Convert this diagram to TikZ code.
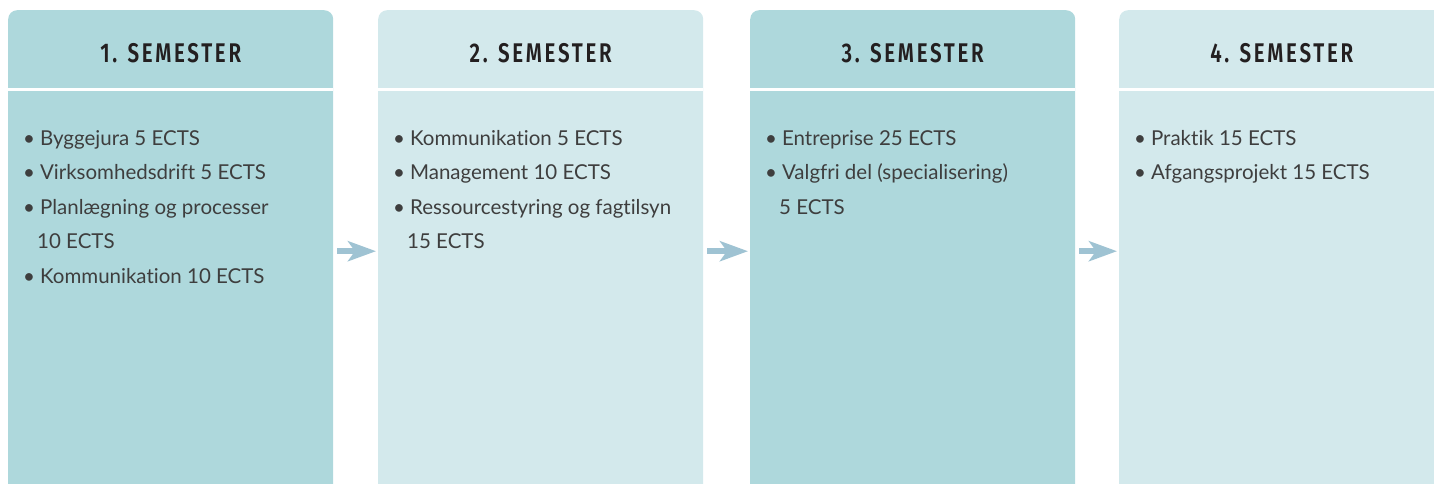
\documentclass[tikz,border=0pt]{standalone}
\usepackage{fontspec}
\setmainfont{Lato}[Ligatures=NoCommon]
\newfontfamily\headfont[FakeStretch=0.76,LetterSpace=10]{Fira Sans SemiBold}
\usetikzlibrary{arrows.meta,positioning}

\definecolor{semdark}{HTML}{AED8DC}
\definecolor{semlight}{HTML}{D3E9EC}
\definecolor{flowblue}{HTML}{9FC3D3}
\definecolor{bodyink}{HTML}{3E3E3E}
\definecolor{headink}{HTML}{231F20}

\newcommand{\bul}{\textbullet\hspace{5pt}}
\newcommand{\cont}{\hspace{14pt}}

\begin{document}
\begin{tikzpicture}[x=1pt,y=-1pt,
  column/.style={rectangle,anchor=north west,inner sep=0pt,
    minimum width=325pt,minimum height=492pt,rounded corners=9pt},
  head/.style={font=\headfont\fontsize{27}{30}\selectfont,text=headink},
  body/.style={anchor=north west,inner sep=0pt,align=left,text=bodyink,
    font=\fontsize{20.5}{34.5}\selectfont},
  sep/.style={white,line width=2.5pt},
  flow/.style={flowblue,line width=6pt,-{Stealth[length=28pt,width=20pt,inset=7pt]},
    shorten <=4pt,shorten >=2pt}]
\useasboundingbox (0,0) rectangle (1434,484);
\clip (0,0) rectangle (1434,484);

% Semester columns
\node[column,fill=semdark] (c1) at (8,10) {};
\node[column,fill=semlight] (c2) at (378,10) {};
\node[column,fill=semdark] (c3) at (750,10) {};
\node[column,fill=semlight] (c4) at (1119,10) {};

% Header separators
\foreach \c in {c1,c2,c3,c4}
  \draw[sep] ([yshift=-79.5pt]\c.north west) -- ([yshift=-79.5pt]\c.north east);

% Headers
\node[head] (h1) at ([yshift=-43pt]c1.north) {1. SEMESTER};
\node[head] (h2) at ([yshift=-43pt]c2.north) {2. SEMESTER};
\node[head] (h3) at ([yshift=-43pt]c3.north) {3. SEMESTER};
\node[head] (h4) at ([yshift=-43pt]c4.north) {4. SEMESTER};

% Course lists
\node[body] (b1) at ([xshift=15pt,yshift=-120pt]c1.north west)
  {\bul Byggejura 5 ECTS\\ \bul Virksomhedsdrift 5 ECTS\\
   \bul Planlægning og processer\\ \cont 10 ECTS\\ \bul Kommunikation 10 ECTS};
\node[body] (b2) at ([xshift=15pt,yshift=-120pt]c2.north west)
  {\bul Kommunikation 5 ECTS\\ \bul Management 10 ECTS\\
   \bul Ressourcestyring og fagtilsyn\\ \cont 15 ECTS};
\node[body] (b3) at ([xshift=15pt,yshift=-120pt]c3.north west)
  {\bul Entreprise 25 ECTS\\ \bul Valgfri del (specialisering)\\ \cont 5 ECTS};
\node[body] (b4) at ([xshift=15pt,yshift=-120pt]c4.north west)
  {\bul Praktik 15 ECTS\\ \bul Afgangsprojekt 15 ECTS};

% Arrows between semesters
\draw[flow] ([yshift=5pt]c1.east) -- ([yshift=5pt]c2.west);
\draw[flow] ([yshift=5pt]c2.east) -- ([yshift=5pt]c3.west);
\draw[flow] ([yshift=5pt]c3.east) -- ([yshift=5pt]c4.west);
\end{tikzpicture}
\end{document}
